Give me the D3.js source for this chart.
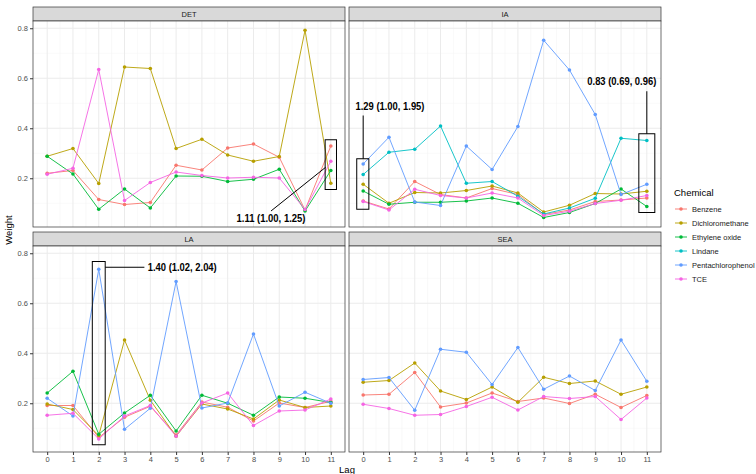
<!DOCTYPE html>
<html>
<head>
<meta charset="utf-8">
<script src="https://cdn.jsdelivr.net/npm/d3@7"></script>
<style>
  body { margin: 0; background: #fff; }
  svg { font-family: "Liberation Sans", Arial, sans-serif; }
</style>
</head>
<body>
<svg id="chart" width="756" height="474"></svg>
<script>
const lags = [0, 1, 2, 3, 4, 5, 6, 7, 8, 9, 10, 11];
const yTicks = [0.2, 0.4, 0.6, 0.8];
const chemicals = ["Benzene", "Dichloromethane", "Ethylene oxide", "Lindane", "Pentachlorophenol", "TCE"];
const colors = ["#F8766D", "#B79F00", "#00BA38", "#00BFC4", "#619CFF", "#F564E3"];
const panels = ["DET", "IA", "LA", "SEA"];

// weights per lag, one row per chemical present in the panel
const det = [
    ["Benzene",         [0.220, 0.231, 0.115, 0.095, 0.103, 0.252, 0.233, 0.321, 0.337, 0.284, 0.073, 0.329]],
    ["Dichloromethane", [0.288, 0.319, 0.179, 0.645, 0.639, 0.319, 0.356, 0.293, 0.268, 0.287, 0.792, 0.180]],
    ["Ethylene oxide",  [0.288, 0.217, 0.076, 0.157, 0.081, 0.209, 0.208, 0.187, 0.196, 0.236, 0.069, 0.231]],
    ["TCE",             [0.216, 0.240, 0.635, 0.111, 0.183, 0.225, 0.211, 0.201, 0.204, 0.201, 0.075, 0.268]],
];
const ia = [
    ["Benzene",           [0.109, 0.077, 0.187, 0.135, 0.121, 0.159, 0.135, 0.055, 0.073, 0.107, 0.113, 0.121]],
    ["Dichloromethane",   [0.176, 0.100, 0.143, 0.141, 0.151, 0.169, 0.141, 0.065, 0.092, 0.139, 0.137, 0.148]],
    ["Ethylene oxide",    [0.149, 0.096, 0.104, 0.104, 0.109, 0.121, 0.100, 0.043, 0.063, 0.099, 0.157, 0.087]],
    ["Lindane",           [0.215, 0.304, 0.316, 0.409, 0.180, 0.187, 0.128, 0.057, 0.081, 0.120, 0.360, 0.351]],
    ["Pentachlorophenol", [0.257, 0.364, 0.105, 0.091, 0.329, 0.235, 0.407, 0.752, 0.633, 0.455, 0.135, 0.176]],
    ["TCE",               [0.107, 0.073, 0.156, 0.131, 0.121, 0.141, 0.121, 0.051, 0.068, 0.099, 0.112, 0.131]],
];
const la = [
    ["Benzene",           [0.191, 0.191, 0.063, 0.144, 0.188, 0.073, 0.205, 0.184, 0.129, 0.201, 0.183, 0.208]],
    ["Dichloromethane",   [0.197, 0.175, 0.071, 0.453, 0.212, 0.068, 0.197, 0.177, 0.137, 0.213, 0.183, 0.189]],
    ["Ethylene oxide",    [0.241, 0.328, 0.076, 0.161, 0.232, 0.089, 0.232, 0.200, 0.152, 0.225, 0.220, 0.203]],
    ["Pentachlorophenol", [0.220, 0.149, 0.736, 0.096, 0.180, 0.687, 0.181, 0.201, 0.477, 0.189, 0.244, 0.200]],
    ["TCE",               [0.152, 0.160, 0.057, 0.149, 0.191, 0.068, 0.201, 0.241, 0.111, 0.169, 0.173, 0.217]],
];
const sea = [
    ["Benzene",           [0.233, 0.236, 0.323, 0.185, 0.201, 0.241, 0.207, 0.221, 0.199, 0.236, 0.183, 0.231]],
    ["Dichloromethane",   [0.284, 0.291, 0.361, 0.249, 0.215, 0.265, 0.204, 0.304, 0.279, 0.289, 0.236, 0.265]],
    ["Pentachlorophenol", [0.295, 0.303, 0.172, 0.416, 0.404, 0.275, 0.423, 0.256, 0.309, 0.251, 0.453, 0.288]],
    ["TCE",               [0.196, 0.179, 0.152, 0.155, 0.187, 0.224, 0.173, 0.227, 0.219, 0.227, 0.135, 0.221]],
];
const panelData = [det, ia, la, sea];

// callouts: box around a lag, leader line, label (data units)
const notes = [
    {panel: 0, label: "1.11 (1.00, 1.25)", box: [10.78, 11.22, 0.155, 0.354], line: [[8.68, 0.069], [10.8, 0.244]], text: [8.68, 0.039], anchor: "middle"},
    {panel: 1, label: "1.29 (1.00, 1.95)", box: [-0.25, 0.22, 0.076, 0.278], line: [[0, 0.451], [0, 0.278]], text: [1.04, 0.487], anchor: "middle"},
    {panel: 1, label: "0.83 (0.69, 0.96)", box: [10.69, 11.31, 0.063, 0.378], line: [[11, 0.548], [11, 0.378]], text: [10.03, 0.587], anchor: "middle"},
    {panel: 2, label: "1.40 (1.02, 2.04)", box: [1.75, 2.25, 0.034, 0.767], line: [[2.25, 0.744], [3.77, 0.744]], text: [3.9, 0.744], anchor: "start"},
];

const svg = d3.select("#chart");
const color = d3.scaleOrdinal().domain(chemicals).range(colors);

const colX = [33, 349];
const rowY = [7, 232];
const pw = 312, stripH = 14, ph = 206;

const x = d3.scaleLinear().domain([-0.55, 11.55]).range([0, pw]);
const y = d3.scaleLinear().domain([0.005, 0.829]).range([ph, 0]);

panels.forEach((name, i) => {
    const col = i % 2, row = Math.floor(i / 2);
    const g = svg.append("g").attr("transform", `translate(${colX[col]},${rowY[row]})`);

    // strip
    g.append("rect")
        .attr("width", pw).attr("height", stripH)
        .attr("fill", "#D9D9D9").attr("stroke", "#333").attr("stroke-width", 0.7);
    g.append("text")
        .attr("x", pw / 2).attr("y", stripH / 2 + 3)
        .attr("text-anchor", "middle")
        .attr("font-size", 7.5).attr("fill", "#1A1A1A")
        .text(name);

    const p = g.append("g").attr("transform", `translate(0,${stripH})`);
    p.append("rect").attr("width", pw).attr("height", ph).attr("fill", "#fff");

    // grid
    const minorX = lags.slice(0, -1).map(d => d + 0.5);
    const minorY = [0.1, 0.3, 0.5, 0.7];
    p.append("g").selectAll("line").data(minorX).join("line")
        .attr("x1", d => x(d)).attr("x2", d => x(d)).attr("y1", 0).attr("y2", ph)
        .attr("stroke", "#F2F2F2").attr("stroke-width", 0.5);
    p.append("g").selectAll("line").data(minorY).join("line")
        .attr("y1", d => y(d)).attr("y2", d => y(d)).attr("x1", 0).attr("x2", pw)
        .attr("stroke", "#F2F2F2").attr("stroke-width", 0.5);
    p.append("g").selectAll("line").data(lags).join("line")
        .attr("x1", d => x(d)).attr("x2", d => x(d)).attr("y1", 0).attr("y2", ph)
        .attr("stroke", "#EBEBEB").attr("stroke-width", 1);
    p.append("g").selectAll("line").data(yTicks).join("line")
        .attr("y1", d => y(d)).attr("y2", d => y(d)).attr("x1", 0).attr("x2", pw)
        .attr("stroke", "#EBEBEB").attr("stroke-width", 1);

    // series
    const line = d3.line().x((d, j) => x(lags[j])).y(d => y(d));
    panelData[i].forEach(([chem, vals]) => {
        p.append("path")
            .attr("d", line(vals))
            .attr("fill", "none")
            .attr("stroke", color(chem))
            .attr("stroke-width", 0.9);
        p.append("g").selectAll("circle").data(vals).join("circle")
            .attr("cx", (d, j) => x(lags[j])).attr("cy", d => y(d))
            .attr("r", 1.8).attr("fill", color(chem));
    });

    // callouts
    notes.filter(n => n.panel === i).forEach(n => {
        p.append("rect")
            .attr("x", x(n.box[0])).attr("width", x(n.box[1]) - x(n.box[0]))
            .attr("y", y(n.box[3])).attr("height", y(n.box[2]) - y(n.box[3]))
            .attr("fill", "none").attr("stroke", "#000").attr("stroke-width", 1);
        p.append("line")
            .attr("x1", x(n.line[0][0])).attr("y1", y(n.line[0][1]))
            .attr("x2", x(n.line[1][0])).attr("y2", y(n.line[1][1]))
            .attr("stroke", "#000").attr("stroke-width", 1);
        p.append("text")
            .attr("x", x(n.text[0])).attr("y", y(n.text[1]))
            .attr("dy", "0.35em")
            .attr("text-anchor", n.anchor)
            .attr("font-weight", "bold")
            .attr("font-size", 10.5)
            .attr("textLength", 69)
            .attr("lengthAdjust", "spacingAndGlyphs")
            .text(n.label);
    });

    p.append("rect").attr("width", pw).attr("height", ph)
        .attr("fill", "none").attr("stroke", "#333").attr("stroke-width", 0.7);

    // axes
    if (col === 0) {
        const ay = p.append("g").call(d3.axisLeft(y).tickValues(yTicks).tickSize(3).tickPadding(2).tickFormat(d3.format(".1f")));
        ay.select(".domain").remove();
        ay.selectAll("line").attr("stroke", "#333");
        ay.selectAll("text").attr("font-size", 7.5).attr("fill", "#4D4D4D").attr("font-family", "'Liberation Sans', Arial, sans-serif");
    }
    if (row === 1) {
        const ax = p.append("g").attr("transform", `translate(0,${ph})`)
            .call(d3.axisBottom(x).tickValues(lags).tickSize(3).tickPadding(2));
        ax.select(".domain").remove();
        ax.selectAll("line").attr("stroke", "#333");
        ax.selectAll("text").attr("font-size", 7.5).attr("fill", "#4D4D4D").attr("font-family", "'Liberation Sans', Arial, sans-serif");
    }
});

// axis titles
svg.append("text")
    .attr("transform", "translate(12,230) rotate(-90)")
    .attr("text-anchor", "middle").attr("font-size", 9.5).attr("fill", "#000")
    .text("Weight");
svg.append("text")
    .attr("x", 347).attr("y", 473)
    .attr("text-anchor", "middle").attr("font-size", 9.5).attr("fill", "#000")
    .text("Lag");

// legend
const leg = svg.append("g").attr("transform", "translate(674,0)");
leg.append("text").attr("x", 0).attr("y", 196).attr("font-size", 9.5).text("Chemical");
chemicals.forEach((c, k) => {
    const yy = 209 + k * 14;
    leg.append("line").attr("x1", 1).attr("x2", 13).attr("y1", yy).attr("y2", yy)
        .attr("stroke", color(c)).attr("stroke-width", 0.9);
    leg.append("circle").attr("cx", 7).attr("cy", yy).attr("r", 1.8).attr("fill", color(c));
    leg.append("text").attr("x", 18).attr("y", yy + 2.7).attr("font-size", 7.5).attr("fill", "#1A1A1A").text(c);
});
</script>
</body>
</html>
